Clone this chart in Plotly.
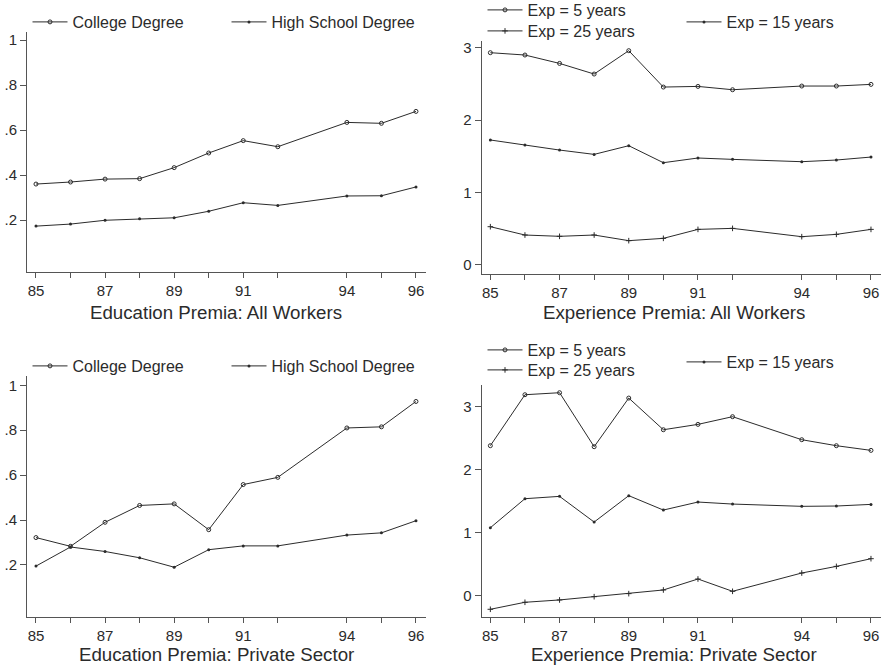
import plotly.graph_objects as go

# Survey years (no 1993 observation)
years = [85, 86, 87, 88, 89, 90, 91, 92, 94, 95, 96]
tick_years = [85, 86, 87, 88, 89, 90, 91, 92, 94, 95, 96]
tick_year_labels = ["85", "", "87", "", "89", "", "91", "", "94", "", "96"]

# Education premia, all workers
edu_all_college = [0.360, 0.369, 0.382, 0.384, 0.433, 0.498, 0.553, 0.526, 0.634, 0.630, 0.683]
edu_all_hs = [0.173, 0.182, 0.199, 0.206, 0.210, 0.239, 0.277, 0.265, 0.307, 0.308, 0.347]

# Education premia, private sector
edu_priv_college = [0.322, 0.283, 0.390, 0.465, 0.472, 0.357, 0.558, 0.590, 0.810, 0.815, 0.928]
edu_priv_hs = [0.195, 0.280, 0.260, 0.232, 0.190, 0.268, 0.285, 0.285, 0.333, 0.343, 0.397]

# Experience premia, all workers
exp_all_5 = [2.931, 2.899, 2.783, 2.636, 2.959, 2.456, 2.465, 2.419, 2.470, 2.470, 2.493]
exp_all_15 = [1.724, 1.654, 1.585, 1.525, 1.645, 1.410, 1.475, 1.456, 1.424, 1.447, 1.488]
exp_all_25 = [0.525, 0.410, 0.392, 0.410, 0.332, 0.364, 0.488, 0.502, 0.387, 0.419, 0.488]

# Experience premia, private sector
exp_priv_5 = [2.382, 3.190, 3.222, 2.366, 3.137, 2.635, 2.720, 2.842, 2.477, 2.382, 2.308]
exp_priv_15 = [1.082, 1.542, 1.579, 1.172, 1.590, 1.362, 1.489, 1.457, 1.421, 1.426, 1.452]
exp_priv_25 = [-0.211, -0.100, -0.063, -0.011, 0.037, 0.095, 0.269, 0.074, 0.364, 0.469, 0.591]

edu_ticks = [0.2, 0.4, 0.6, 0.8, 1.0]
edu_tick_labels = [".2", ".4", ".6", ".8", "1"]
exp_ticks = [0, 1, 2, 3]
exp_tick_labels = ["0", "1", "2", "3"]

panel_titles = [
    "Education Premia: All Workers",
    "Experience Premia: All Workers",
    "Education Premia: Private Sector",
    "Experience Premia: Private Sector",
]

W, H = 882, 667
FONT = "Liberation Sans, Arial, Helvetica, sans-serif"
INK = "#2b2b2b"
AXIS = "#555555"

fig = go.Figure()

marker_styles = {
    "open": dict(symbol="circle-open", size=4, line=dict(width=1, color=INK), color=INK),
    "dot": dict(symbol="circle", size=3, color=INK),
    "plus": dict(symbol="cross-thin-open", size=4, line=dict(width=1, color=INK), color=INK),
}


def add_series(y, name, style, xa, ya, legend):
    fig.add_trace(go.Scatter(
        x=years, y=y, name=name, mode="lines+markers",
        line=dict(color=INK, width=1),
        marker=marker_styles[style],
        xaxis=xa, yaxis=ya, legend=legend, showlegend=True,
    ))


add_series(edu_all_college, "College Degree", "open", "x", "y", "legend")
add_series(edu_all_hs, "High School Degree", "dot", "x", "y", "legend2")
add_series(exp_all_5, "Exp = 5 years", "open", "x2", "y2", "legend3")
add_series(exp_all_15, "Exp = 15 years", "dot", "x2", "y2", "legend4")
add_series(exp_all_25, "Exp = 25 years", "plus", "x2", "y2", "legend5")
add_series(edu_priv_college, "College Degree", "open", "x3", "y3", "legend6")
add_series(edu_priv_hs, "High School Degree", "dot", "x3", "y3", "legend7")
add_series(exp_priv_5, "Exp = 5 years", "open", "x4", "y4", "legend8")
add_series(exp_priv_15, "Exp = 15 years", "dot", "x4", "y4", "legend9")
add_series(exp_priv_25, "Exp = 25 years", "plus", "x4", "y4", "legend10")


def px_x(p):
    return p / W


def px_y(p):
    return 1 - p / H


def xaxis(domain, rng, anchor):
    return dict(
        domain=domain, range=rng, anchor=anchor,
        tickmode="array", tickvals=tick_years, ticktext=tick_year_labels,
        ticks="outside", ticklen=5, tickwidth=1, tickcolor=AXIS,
        showline=True, linecolor=AXIS, linewidth=1,
        showgrid=False, zeroline=False,
        tickfont=dict(family=FONT, size=15, color=INK),
    )


def yaxis(domain, rng, anchor, vals, labels):
    return dict(
        domain=domain, range=rng, anchor=anchor,
        tickmode="array", tickvals=vals, ticktext=labels,
        ticks="outside", ticklen=6, tickwidth=1, tickcolor=AXIS,
        showline=True, linecolor=AXIS, linewidth=1,
        showgrid=False, zeroline=False,
        tickfont=dict(family=FONT, size=15, color=INK),
    )


left_dom = [px_x(27), px_x(426)]
right_dom = [px_x(481.7), px_x(881)]

layout = dict(
    width=W, height=H,
    margin=dict(l=0, r=0, t=0, b=0, autoexpand=False),
    paper_bgcolor="white", plot_bgcolor="white",
    font=dict(family=FONT, color=INK),
    xaxis=xaxis(left_dom, [84.74, 96.29], "y"),
    yaxis=yaxis([px_y(272), px_y(32)], [-0.031, 1.036], "x", edu_ticks, edu_tick_labels),
    xaxis2=xaxis(right_dom, [84.75, 96.29], "y2"),
    yaxis2=yaxis([px_y(274), px_y(40.7)], [-0.129, 3.097], "x2", exp_ticks, exp_tick_labels),
    xaxis3=xaxis(left_dom, [84.74, 96.29], "y3"),
    yaxis3=yaxis([px_y(617.3), px_y(376.3)], [-0.033, 1.04], "x3", edu_ticks, edu_tick_labels),
    xaxis4=xaxis(right_dom, [84.75, 96.29], "y4"),
    yaxis4=yaxis([px_y(617.3), px_y(384.7)], [-0.338, 3.349], "x4", exp_ticks, exp_tick_labels),
)

# One legend per key so each entry sits where the panel's key is laid out;
# the key's sample is centred on its slot, with the label just after it
legend_spots = {
    "legend": (27, 22), "legend2": (226, 22),
    "legend3": (482, 10), "legend4": (681, 22), "legend5": (482, 31),
    "legend6": (27, 366), "legend7": (226, 366),
    "legend8": (482, 350), "legend9": (681, 362), "legend10": (482, 370),
}
for key, (lx, ly) in legend_spots.items():
    layout[key] = dict(
        x=px_x(lx + 0.5), y=px_y(ly), xanchor="left", yanchor="middle",
        bgcolor="rgba(0,0,0,0)", borderwidth=0,
        font=dict(family=FONT, size=16, color=INK),
        itemwidth=35, tracegroupgap=0,
    )

fig.update_layout(**layout)

title_spots = [(216, 312), (674, 312), (216, 654), (674, 654)]
for text, (tx, ty) in zip(panel_titles, title_spots):
    fig.add_annotation(
        text=text, x=px_x(tx), y=px_y(ty), xref="paper", yref="paper",
        xanchor="center", yanchor="middle", showarrow=False,
        font=dict(family=FONT, size=18.7, color=INK),
    )

fig.write_html("out.html")
